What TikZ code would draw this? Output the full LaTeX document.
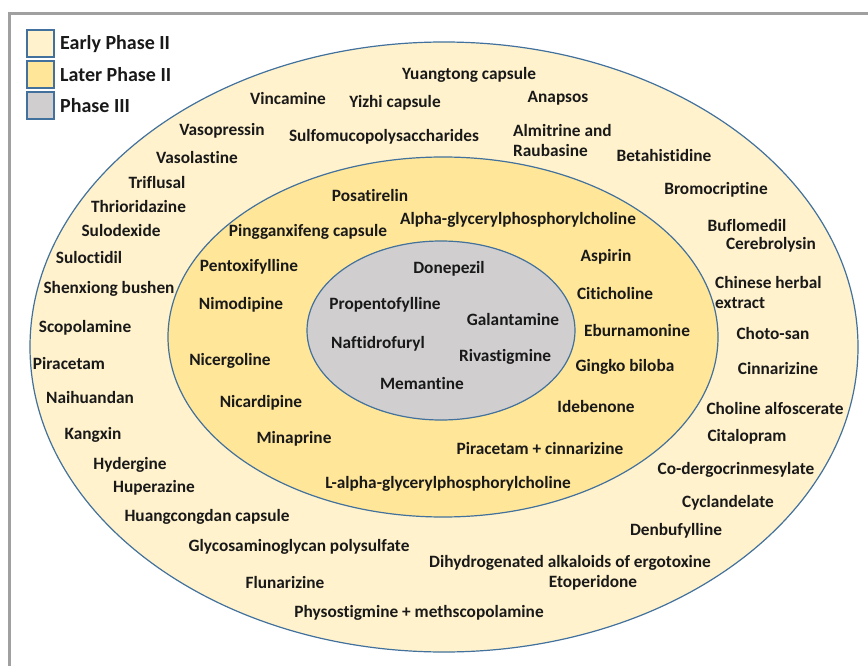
\documentclass[tikz,border=0pt]{standalone}
\usepackage{fontspec}
\setmainfont{Carlito}[Ligatures={NoCommon}]
\definecolor{early}{HTML}{FFF2CC}
\definecolor{later}{HTML}{FFE699}
\definecolor{phasethree}{HTML}{D0CECE}
\definecolor{rim}{HTML}{41719C}
\definecolor{framegray}{HTML}{A0A0A0}
\tikzset{
  lbl/.style={font=\bfseries\fontsize{17.3}{20}\selectfont, text=black!90, inner sep=0pt, align=left},
  leg/.style={font=\bfseries\fontsize{20}{22}\selectfont, text=black!90, inner sep=0pt, anchor=west},
  legbox/.style={draw=rim, line width=1.2pt, minimum width=27pt, minimum height=27pt, inner sep=0pt},
  ring/.style={draw=rim, line width=1.2pt},
}
\begin{document}
\begin{tikzpicture}[x=1pt,y=-1pt]
\useasboundingbox (0,0) rectangle (868,666);
\fill[white] (0,0) rectangle (868,666);
% frame
\draw[framegray, line width=3pt] (9.5,666) -- (9.5,13.5) -- (868,13.5);
% ellipses
\draw[ring, fill=early] (444,347) ellipse [x radius=414, y radius=305];
\draw[ring, fill=later] (443,337) ellipse [x radius=275, y radius=180];
\draw[ring, fill=phasethree] (441,330.5) ellipse [x radius=134, y radius=89.5];
% legend
\node[legbox, fill=early] (b1) at (40.5,43.5) {};
\node[legbox, fill=later] (b2) at (40.5,74.5) {};
\node[legbox, fill=phasethree] (b3) at (40.5,105.5) {};
\node[leg] (l1) at (60,44) {Early Phase II};
\node[leg] (l2) at (60,75) {Later Phase II};
\node[leg] (l3) at (60,106) {Phase III};
% outer ring
\node[lbl] (o1) at (469,75) {Yuangtong capsule};
\node[lbl] (o2) at (288,98) {Vincamine};
\node[lbl] (o3) at (395,103) {Yizhi capsule};
\node[lbl] (o4) at (558,98) {Anapsos};
\node[lbl] (o5) at (222,131) {Vasopressin};
\node[lbl] (o6) at (384,137) {Sulfomucopolysaccharides};
\node[lbl, anchor=west] (o7) at (513,140) {Almitrine and\\Raubasine};
\node[lbl] (o8) at (664,155) {Betahistidine};
\node[lbl] (o9) at (197,157) {Vasolastine};
\node[lbl] (o10) at (157,182) {Triflusal};
\node[lbl] (o11) at (716,190) {Bromocriptine};
\node[lbl] (o12) at (138.5,206) {Thrioridazine};
\node[lbl] (o13) at (121,230) {Sulodexide};
\node[lbl] (o14) at (747,225) {Buflomedil};
\node[lbl] (o15) at (771,245) {Cerebrolysin};
\node[lbl] (o16) at (89,257) {Suloctidil};
\node[lbl] (o17) at (109,289) {Shenxiong bushen};
\node[lbl, anchor=west] (o18) at (715,292.5) {Chinese herbal\\extract};
\node[lbl] (o19) at (85,328) {Scopolamine};
\node[lbl] (o20) at (773,333) {Choto-san};
\node[lbl] (o21) at (69,363) {Piracetam};
\node[lbl] (o22) at (778,368) {Cinnarizine};
\node[lbl] (o23) at (90,397) {Naihuandan};
\node[lbl] (o24) at (775,408) {Choline alfoscerate};
\node[lbl] (o25) at (93,435) {Kangxin};
\node[lbl] (o26) at (747,437) {Citalopram};
\node[lbl] (o27) at (130,465) {Hydergine};
\node[lbl] (o28) at (736,470) {Co-dergocrinmesylate};
\node[lbl] (o29) at (154,488) {Huperazine};
\node[lbl] (o30) at (728,503) {Cyclandelate};
\node[lbl] (o31) at (207,517) {Huangcongdan capsule};
\node[lbl] (o32) at (676,531) {Denbufylline};
\node[lbl] (o33) at (299,547) {Glycosaminoglycan polysulfate};
\node[lbl] (o34) at (570,563) {Dihydrogenated alkaloids of ergotoxine};
\node[lbl] (o35) at (285,582) {Flunarizine};
\node[lbl] (o36) at (593,583) {Etoperidone};
\node[lbl] (o37) at (419,613) {Physostigmine + methscopolamine};
% middle ring
\node[lbl] (m1) at (370,195) {Posatirelin};
\node[lbl] (m2) at (518,220) {Alpha-glycerylphosphorylcholine};
\node[lbl] (m3) at (308,232) {Pingganxifeng capsule};
\node[lbl] (m4) at (606,257) {Aspirin};
\node[lbl] (m5) at (249,267) {Pentoxifylline};
\node[lbl] (m6) at (615,293) {Citicholine};
\node[lbl] (m7) at (241,305) {Nimodipine};
\node[lbl] (m8) at (637,330) {Eburnamonine};
\node[lbl] (m9) at (230,361) {Nicergoline};
\node[lbl] (m10) at (625,367) {Gingko biloba};
\node[lbl] (m11) at (261,403) {Nicardipine};
\node[lbl] (m12) at (596,406) {Idebenone};
\node[lbl] (m13) at (294,439) {Minaprine};
\node[lbl] (m14) at (540,448) {Piracetam + cinnarizine};
\node[lbl] (m15) at (448,484) {L-alpha-glycerylphosphorylcholine};
% inner
\node[lbl] (i1) at (449,269) {Donepezil};
\node[lbl] (i2) at (385,305) {Propentofylline};
\node[lbl] (i3) at (513,319) {Galantamine};
\node[lbl] (i4) at (378,344) {Naftidrofuryl};
\node[lbl] (i5) at (505,357) {Rivastigmine};
\node[lbl] (i6) at (422,383) {Memantine};
\end{tikzpicture}
\end{document}
